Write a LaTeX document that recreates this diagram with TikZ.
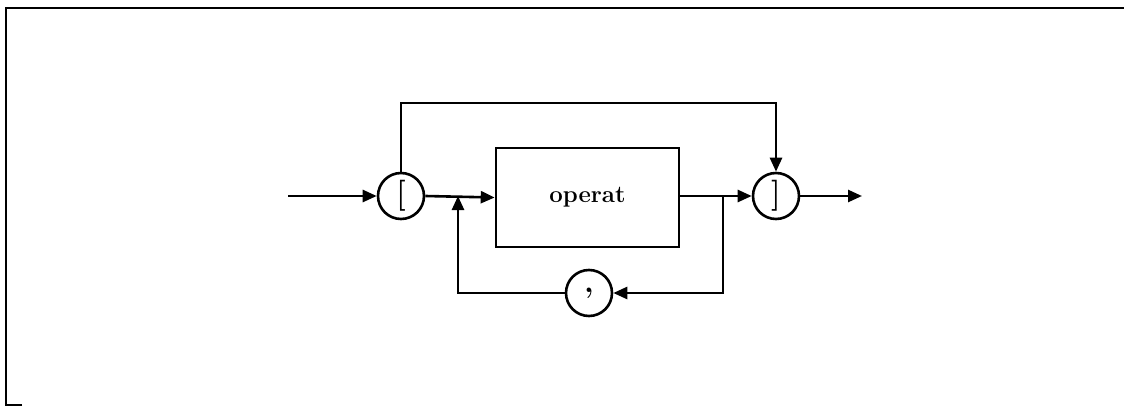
\documentclass[tikz,border=0pt]{standalone}
\usepackage{fontspec}
\setmainfont{Latin Modern Roman}
\usetikzlibrary{arrows.meta}
\begin{document}
\begin{tikzpicture}[x=1pt,y=-1pt,
  line width=2.6pt,
  tip/.style={-{Triangle[length=14pt,width=12pt]}},
  term/.style={draw,circle,minimum size=46pt,inner sep=0pt,font=\fontsize{31}{34}\selectfont\bfseries},
  ntbox/.style={draw,rectangle,minimum width=183pt,minimum height=99pt,inner sep=0pt,font=\fontsize{24}{28}\selectfont\bfseries}]
\useasboundingbox (0,0) rectangle (1124,409);
% frame
\draw[line width=2.6pt] (22,405) -- (6,405) -- (6,8) -- (1124,8);
% nodes
\node[term] (lb) at (401,196) {[};
\node[term] (rb) at (776,196) {]};
\node[ntbox] (op) at (587.5,197.5) {operat};
\node[term] (cm) at (589,293) {,};
\coordinate (start) at (288,196);
\coordinate (finish) at (862,196);
\coordinate (jl) at (458,196);
\coordinate (jr) at (723,196);
\coordinate (tl) at (401,103);
\coordinate (tr) at (776,103);
\coordinate (bl) at (458,293);
\coordinate (br) at (723,293);
% connectors
\draw[tip] (start) -- (lb.west);
\draw[tip] (lb.east) -- (op.west);
\draw (op.east |- jr) -- (jr);
\draw[tip] (jr) -- (rb.west);
\draw[tip] (rb.east) -- (finish);
\draw[tip] (lb.north) -- (tl) -- (tr) -- (rb.north);
\draw[tip] (jr) -- (br) -- (cm.east);
\draw[tip] (cm.west) -- (bl) -- (jl);
\end{tikzpicture}
\end{document}
